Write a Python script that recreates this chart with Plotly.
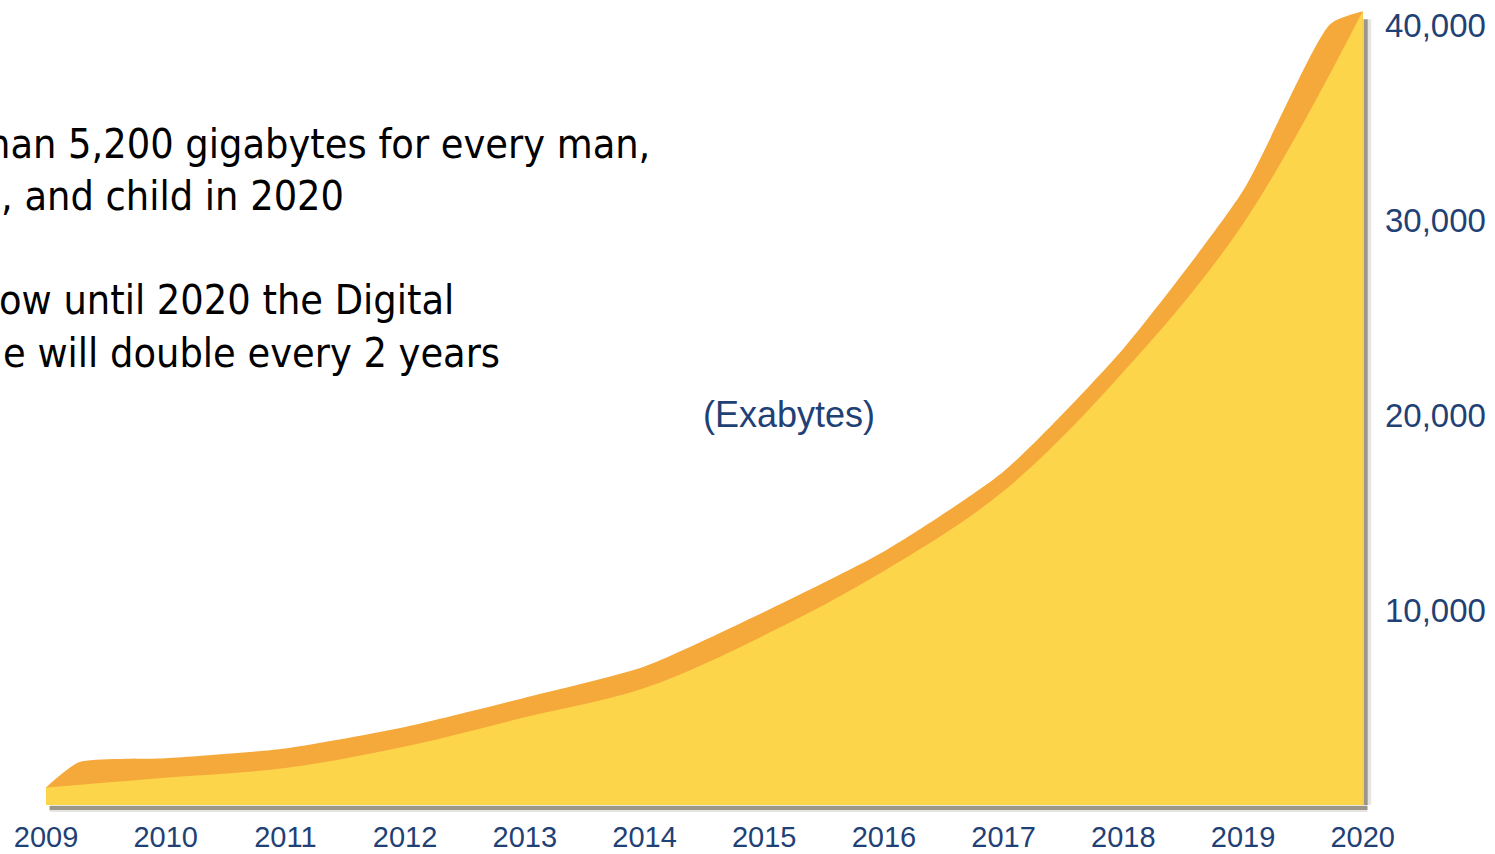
import plotly.graph_objects as go

# Digital universe growth, exabytes per year (front face of the ribbon)
years = [2009, 2010, 2011, 2012, 2013, 2014, 2015, 2016, 2017, 2018, 2019, 2020]
exabytes = [900, 1400, 1900, 3000, 4500, 6000, 8700, 12000, 16100, 22200, 29800, 40700]

# Upper (back) edge of the ribbon's top face
ribbon_years = [2009, 2009.28, 2010, 2011, 2012, 2013, 2014, 2015, 2016, 2017, 2018, 2019, 2019.73, 2020]
ribbon_top = [900, 2200, 2400, 2900, 4000, 5500, 7100, 9900, 13000, 17100, 23400, 31500, 40050, 40700]

y_ticks = [10000, 20000, 30000, 40000]
y_tick_labels = ["10,000", "20,000", "30,000", "40,000"]

bullet_lines = [
    "han 5,200 gigabytes for every man,",
    ", and child in 2020",
    "ow until 2020 the Digital",
    "e will double every 2 years",
]

W, H = 1495, 854
PLOT_R = 1378          # right edge of plot area (px)
PLOT_B = 812           # bottom edge of plot area (px)
X0_PX, YEAR_PX = 46, 119.7
ZERO_PX, PX_PER_UNIT = 805, 0.01950

x_range = [2009 - X0_PX / YEAR_PX, 2009 + (PLOT_R - X0_PX) / YEAR_PX]
y_range = [-(PLOT_B - ZERO_PX) / PX_PER_UNIT, ZERO_PX / PX_PER_UNIT]

BLUE = "#1f4175"
YELLOW = "#fdd54b"
ORANGE = "#f5a93b"

fig = go.Figure()

# top face of the ribbon
fig.add_trace(go.Scatter(
    x=ribbon_years, y=ribbon_top, mode="lines",
    line=dict(color=ORANGE, width=0, shape="spline", smoothing=0.6),
    fill="tozeroy", fillcolor=ORANGE, hoverinfo="skip", showlegend=False,
))
# front face
fig.add_trace(go.Scatter(
    x=years, y=exabytes, mode="lines",
    line=dict(color=YELLOW, width=0, shape="spline", smoothing=1.0),
    fill="tozeroy", fillcolor=YELLOW, hoverinfo="skip", showlegend=False,
))

# soft drop shadow along the bottom and right edges
shadow = []
for width, off, col in [(9, -4, "rgba(120,110,90,0.18)"), (4, -3, "rgba(95,85,65,0.55)")]:
    shadow.append(dict(
        type="line", xref="x", yref="y", ysizemode="pixel", yanchor=0,
        x0=years[0] + 0.03, x1=years[-1] + 0.04, y0=off, y1=off,
        line=dict(color=col, width=width), layer="below",
    ))
    shadow.append(dict(
        type="line", xref="x", yref="y", xsizemode="pixel", xanchor=years[-1],
        x0=-off, x1=-off, y0=0, y1=exabytes[-1] - 400,
        line=dict(color=col, width=width), layer="below",
    ))

annotations = []


def px_x(px):
    return px / PLOT_R


def px_y(py):
    return 1 - py / PLOT_B


for text, right, cy in zip(bullet_lines, [652, 346, 456, 502], [144, 196, 300, 353]):
    annotations.append(dict(
        text=text, xref="paper", yref="paper", x=px_x(right), y=px_y(cy),
        xanchor="right", yanchor="middle", showarrow=False,
        font=dict(family="DejaVu Sans Condensed, DejaVu Sans", size=41, color="#000000"),
    ))

annotations.append(dict(
    text="(Exabytes)", xref="paper", yref="paper", x=px_x(789), y=px_y(414),
    xanchor="center", yanchor="middle", showarrow=False,
    font=dict(family="Liberation Sans, Arial", size=36, color=BLUE),
))

fig.update_layout(
    width=W, height=H,
    margin=dict(l=0, r=W - PLOT_R, t=0, b=H - PLOT_B, pad=0),
    paper_bgcolor="white", plot_bgcolor="white",
    shapes=shadow, annotations=annotations,
    hovermode=False,
    xaxis=dict(
        range=x_range, tickmode="array", tickvals=years,
        ticktext=[str(y) for y in years],
        showgrid=False, zeroline=False, showline=False, ticks="",
        ticklabelstandoff=5,
        tickfont=dict(family="Liberation Sans, Arial", size=29, color=BLUE),
        automargin=False, fixedrange=True,
    ),
    yaxis=dict(
        range=y_range, side="right", tickmode="array", tickvals=y_ticks,
        ticktext=y_tick_labels,
        showgrid=False, zeroline=False, showline=False, ticks="",
        ticklabelstandoff=6,
        tickfont=dict(family="Liberation Sans, Arial", size=33, color=BLUE),
        automargin=False, fixedrange=True,
    ),
)

fig.write_html("out.html", config={"displayModeBar": False})
